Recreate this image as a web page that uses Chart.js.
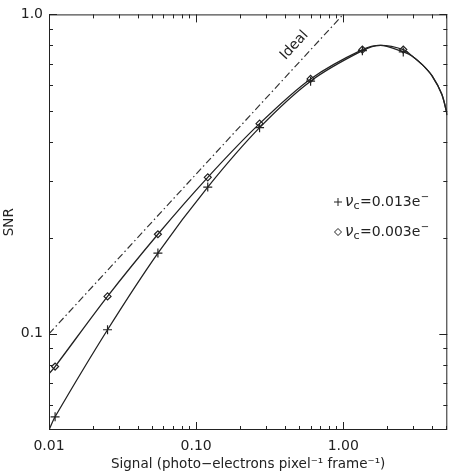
<!DOCTYPE html>
<html>
<head>
<meta charset="utf-8">
<script src="https://cdn.jsdelivr.net/npm/chart.js@4.4.1/dist/chart.umd.min.js"></script>
<style>
  html, body { margin: 0; padding: 0; background: #fff; }
</style>
</head>
<body>
<canvas id="snrChart" width="453" height="475"></canvas>
<script>
/* ===========================
   DATA
=========================== */

// marker positions, signal in photo-electrons / pixel / frame
const signal = [0.011, 0.025, 0.055, 0.12, 0.27, 0.6, 1.35, 2.56];
const snrHighNoise = [0.055, 0.103, 0.179, 0.288, 0.442, 0.618, 0.77, 0.763]; // nu_c = 0.013e-
const snrLowNoise = [0.079, 0.131, 0.205, 0.309, 0.455, 0.628, 0.776, 0.776]; // nu_c = 0.003e-

// extra points along the drawn curves (no markers there)
const startSignal = 0.01;
const startHighNoise = 0.05;
const startLowNoise = 0.075;
const peakSignal = [1.8];
const peakSnr = [0.80];
const tailSignal = [2.95, 3.46, 4.02, 4.68, 5.1];
const tailSnr = [0.74, 0.695, 0.642, 0.562, 0.484];

// ideal (photon-noise limited) line
const idealSignal = [0.01, 1.0];
const idealSnr = [0.1, 1.0];

// axis ticks
const xTicks = [0.01, 0.02, 0.03, 0.04, 0.05, 0.06, 0.07, 0.08, 0.09,
                0.1, 0.2, 0.3, 0.4, 0.5, 0.6, 0.7, 0.8, 0.9,
                1, 2, 3, 4, 5];
const xMajor = [0.01, 0.1, 1];
const xTickLabels = ['0.01', '0.10', '1.00'];
const yTicks = [0.06, 0.07, 0.08, 0.09, 0.1, 0.2, 0.3, 0.4, 0.5, 0.6, 0.7, 0.8, 0.9, 1.0];
const yMajor = [0.1, 1.0];
const yTickLabels = ['0.1', '1.0'];

const legendLabels = ['=0.013e', '=0.003e'];

/* ===========================
   BUILD DATASETS
=========================== */

const pts = (xs, ys) => xs.map((x, i) => ({ x: x, y: ys[i] }));

function curve(start, snr) {
    const all = [{ x: startSignal, y: start }]
        .concat(pts(signal, snr), pts(peakSignal, peakSnr), pts(tailSignal, tailSnr));
    return all.sort((a, b) => a.x - b.x);
}

const INK = '#222';
const FONT = 'DejaVu Sans';

/* ===========================
   PLUGIN: frame, inward ticks, labels
=========================== */

const decorations = {
    id: 'decorations',
    afterDatasetsDraw(chart) {
        const { ctx, chartArea: a, scales: { x, y } } = chart;
        ctx.save();
        ctx.strokeStyle = INK;
        ctx.lineWidth = 1;
        ctx.strokeRect(a.left + 0.5, a.top + 0.5, a.right - a.left - 1, a.bottom - a.top - 1);

        ctx.beginPath();
        xTicks.forEach(v => {
            const px = Math.round(x.getPixelForValue(v)) + 0.5;
            const len = xMajor.includes(v) ? 8 : 4;
            ctx.moveTo(px, a.bottom); ctx.lineTo(px, a.bottom - len);
            ctx.moveTo(px, a.top); ctx.lineTo(px, a.top + len);
        });
        yTicks.forEach(v => {
            const py = Math.round(y.getPixelForValue(v)) + 0.5;
            const len = yMajor.includes(v) ? 8 : 4;
            ctx.moveTo(a.left, py); ctx.lineTo(a.left + len, py);
            ctx.moveTo(a.right, py); ctx.lineTo(a.right - len, py);
        });
        ctx.stroke();

        // "Ideal" label along the dash-dot line
        const x0 = x.getPixelForValue(idealSignal[0]), y0 = y.getPixelForValue(idealSnr[0]);
        const x1 = x.getPixelForValue(idealSignal[1]), y1 = y.getPixelForValue(idealSnr[1]);
        const ang = Math.atan2(y1 - y0, x1 - x0);
        ctx.save();
        ctx.translate(x.getPixelForValue(0.465), y.getPixelForValue(0.80));
        ctx.rotate(ang);
        ctx.fillStyle = INK;
        ctx.font = '14px "' + FONT + '"';
        ctx.textAlign = 'center';
        ctx.textBaseline = 'middle';
        ctx.fillText('Ideal', 0, 0);
        ctx.restore();

        // legend inside the plot
        const styles = [
            { pointStyle: 'cross', radius: 4, borderWidth: 1.2, rotation: 0 },
            { pointStyle: 'rectRot', radius: 3.5, borderWidth: 1.2, rotation: 0 }
        ];
        const lx = 338, ly = [202, 232];
        legendLabels.forEach((txt, i) => {
            ctx.strokeStyle = INK;
            ctx.fillStyle = 'rgba(0,0,0,0)';
            Chart.helpers.drawPoint(ctx, styles[i], lx, ly[i]);
            ctx.fillStyle = INK;
            ctx.textAlign = 'left';
            ctx.textBaseline = 'alphabetic';
            let tx = lx + 7;
            const base = ly[i] + 4;
            ctx.font = 'italic 15px "' + FONT + '"';
            ctx.fillText('ν', tx, base);
            tx += ctx.measureText('ν').width;
            ctx.font = '11px "' + FONT + '"';
            ctx.fillText('c', tx, base + 3);
            tx += ctx.measureText('c').width + 0.5;
            ctx.font = '14px "' + FONT + '"';
            ctx.fillText(txt, tx, base);
            tx += ctx.measureText(txt).width + 0.5;
            ctx.font = '10px "' + FONT + '"';
            ctx.fillText('−', tx, base - 6);
        });
        ctx.restore();
    }
};

/* ===========================
   CHART.JS CONFIGURATION
=========================== */

const ctx = document.getElementById('snrChart');

new Chart(ctx, {
    type: 'scatter',
    data: {
        datasets: [
            {
                label: 'nu_c=0.013e- curve',
                data: curve(startHighNoise, snrHighNoise),
                showLine: true,
                borderColor: INK,
                borderWidth: 1.3,
                pointRadius: 0,
                tension: 0.3
            },
            {
                label: 'nu_c=0.003e- curve',
                data: curve(startLowNoise, snrLowNoise),
                showLine: true,
                borderColor: INK,
                borderWidth: 1.3,
                pointRadius: 0,
                tension: 0.3
            },
            {
                label: 'nu_c=0.013e-',
                data: pts(signal, snrHighNoise),
                pointStyle: 'cross',
                pointRadius: 4.5,
                pointBorderWidth: 1.2,
                pointBorderColor: INK
            },
            {
                label: 'nu_c=0.003e-',
                data: pts(signal, snrLowNoise),
                pointStyle: 'rectRot',
                pointRadius: 3.5,
                pointBorderWidth: 1.2,
                pointBorderColor: INK,
                pointBackgroundColor: 'rgba(255,255,255,0)'
            },
            {
                label: 'Ideal',
                data: pts(idealSignal, idealSnr),
                showLine: true,
                borderColor: '#333',
                borderWidth: 1.2,
                borderDash: [7, 3, 1.5, 3],
                pointRadius: 0
            }
        ]
    },
    options: {
        responsive: false,
        animation: false,
        devicePixelRatio: 1,
        layout: { padding: { top: 5, right: 5, left: 0, bottom: 0 } },
        scales: {
            x: {
                type: 'logarithmic',
                min: 0.01,
                max: 5.1,
                afterBuildTicks: (scale) => { scale.ticks = xMajor.map(v => ({ value: v })); },
                afterFit: (scale) => { scale.height = 45; },
                grid: { display: false, drawTicks: false },
                border: { display: false },
                ticks: {
                    autoSkip: false,
                    maxRotation: 0,
                    padding: 8,
                    color: INK,
                    font: { family: FONT, size: 14 },
                    callback: (v) => xTickLabels[xMajor.indexOf(v)]
                },
                title: {
                    display: true,
                    text: 'Signal (photo\u2212electrons pixel\u207B\u00B9 frame\u207B\u00B9)',
                    color: INK,
                    font: { family: FONT, size: 13.5 },
                    padding: { top: 0, bottom: 2 }
                }
            },
            y: {
                type: 'logarithmic',
                min: 0.05,
                max: 1.0,
                afterBuildTicks: (scale) => { scale.ticks = yMajor.map(v => ({ value: v })); },
                afterFit: (scale) => { scale.width = 49; },
                grid: { display: false, drawTicks: false },
                border: { display: false },
                ticks: {
                    autoSkip: false,
                    padding: 6,
                    color: INK,
                    font: { family: FONT, size: 14 },
                    callback: (v) => yTickLabels[yMajor.indexOf(v)]
                },
                title: {
                    display: true,
                    text: 'SNR',
                    color: INK,
                    font: { family: FONT, size: 13.5 },
                    padding: { top: 1, bottom: 0 }
                }
            }
        },
        plugins: {
            legend: { display: false },
            tooltip: { enabled: false }
        }
    },
    plugins: [decorations]
});
</script>
</body>
</html>
